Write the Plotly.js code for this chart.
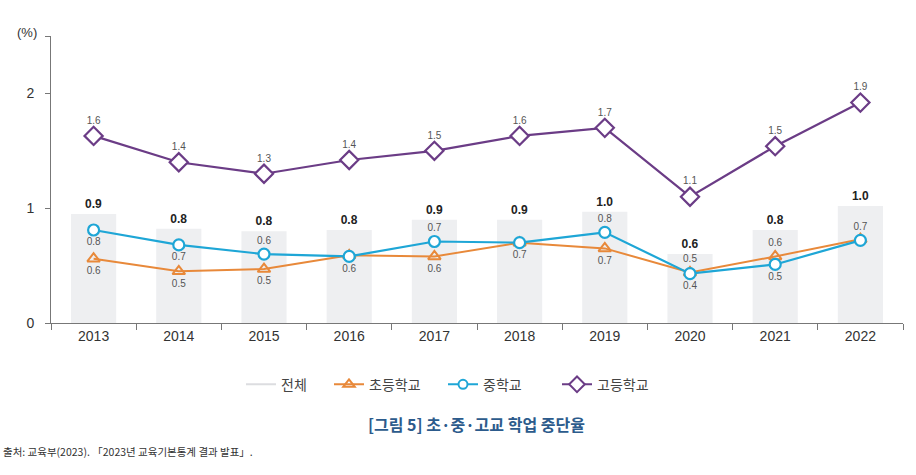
<!DOCTYPE html>
<html><head><meta charset="utf-8">
<script src="https://cdn.plot.ly/plotly-3.0.1.min.js"></script>
<style>html,body{margin:0;padding:0;background:#fff}#chart{width:916px;height:475px}</style>
</head><body><div id="chart"></div>
<script>
const years = ['2013','2014','2015','2016','2017','2018','2019','2020','2021','2022'];
const totalVals = [0.95, 0.82, 0.80, 0.81, 0.90, 0.90, 0.97, 0.60, 0.81, 1.02];
const totalLabels = ['0.9','0.8','0.8','0.8','0.9','0.9','1.0','0.6','0.8','1.0'];
const elemVals = [0.56, 0.45, 0.47, 0.59, 0.58, 0.70, 0.65, 0.44, 0.58, 0.73];
const elemLabels = ['0.6','0.5','0.5','','0.6','','0.7','0.5','0.6',''];
const elemPos = ['bottom center','bottom center','bottom center','bottom center','bottom center','bottom center','bottom center','top center','top center','top center'];
const midVals = [0.81, 0.68, 0.60, 0.58, 0.71, 0.70, 0.79, 0.43, 0.51, 0.72];
const midLabels = ['0.8','0.7','0.6','0.6','0.7','0.7','0.8','0.4','0.5','0.7'];
const midPos = ['bottom center','bottom center','top center','bottom center','top center','bottom center','top center','bottom center','bottom center','top center'];
const highVals = [1.63, 1.40, 1.30, 1.42, 1.50, 1.63, 1.70, 1.10, 1.54, 1.92];
const highLabels = ['1.6','1.4','1.3','1.4','1.5','1.6','1.7','1.1','1.5','1.9'];

const F = 'Liberation Sans, Arial, Noto Sans CJK KR, sans-serif';
const K = 'Noto Sans CJK KR, sans-serif';
const lblFont = {family: F, size: 10, color: '#555'};
const C_ALL = '#dcdde0', C_EL = '#e8893a', C_MID = '#1ea6d6', C_HI = '#6b3c86';

const traces = [
  {type:'bar', x: years, y: totalVals, name:'전체', showlegend:false,
   marker:{color:'#eeeff1'}, width:0.53,
   text: totalLabels, textposition:'outside', cliponaxis:false,
   textfont:{family:F, size:12, color:'#222', weight:'bold'}, hoverinfo:'skip'},
  {type:'scatter', mode:'lines+markers+text', x: years, y: elemVals, name:'초등학교', showlegend:false,
   line:{color:C_EL, width:2},
   marker:{symbol:'triangle-up-open', size:11, color:C_EL, line:{width:2}},
   text: elemLabels, textposition: elemPos, textfont: lblFont, cliponaxis:false},
  {type:'scatter', mode:'lines+markers+text', x: years, y: midVals, name:'중학교', showlegend:false,
   line:{color:C_MID, width:2.2},
   marker:{symbol:'circle', size:11, color:'#ffffff', line:{width:2.2, color:C_MID}},
   text: midLabels, textposition: midPos, textfont: lblFont, cliponaxis:false},
  {type:'scatter', mode:'lines+markers+text', x: years, y: highVals, name:'고등학교', showlegend:false,
   line:{color:C_HI, width:2.2},
   marker:{symbol:'diamond', size:14, color:'#ffffff', line:{width:2.2, color:C_HI}},
   text: highLabels, textposition:'top center', textfont: lblFont, cliponaxis:false},
  // legend entries
  {type:'scatter', mode:'lines', x:[years[0]], y:[null], name:'전체', legend:'legend',
   line:{color:C_ALL, width:2}},
  {type:'scatter', mode:'lines+markers', x:[years[0]], y:[null], name:'초등학교', legend:'legend2',
   line:{color:C_EL, width:2}, marker:{symbol:'triangle-up-open', size:10, color:C_EL, line:{width:2}}},
  {type:'scatter', mode:'lines+markers', x:[years[0]], y:[null], name:'중학교', legend:'legend3',
   line:{color:C_MID, width:2}, marker:{symbol:'circle', size:9, color:'#fff', line:{width:2, color:C_MID}}},
  {type:'scatter', mode:'lines+markers', x:[years[0]], y:[null], name:'고등학교', legend:'legend4',
   line:{color:C_HI, width:2}, marker:{symbol:'diamond', size:12, color:'#fff', line:{width:2, color:C_HI}}}
];

function leg(px){
  return {orientation:'h', x:(px-51)/852, xanchor:'left', y:-0.215, yanchor:'middle',
          font:{family:K, size:14, color:'#444'}, bgcolor:'rgba(0,0,0,0)'};
}

const layout = {
  width:916, height:475,
  margin:{l:51, r:13, t:36, b:152},
  paper_bgcolor:'#fff', plot_bgcolor:'#fff',
  font:{family:F, color:'#333'},
  showlegend:true,
  legend: leg(241), legend2: leg(329), legend3: leg(443), legend4: leg(557),
  xaxis:{type:'category', range:[-0.5, 9.5], tickson:'boundaries', ticks:'outside', ticklen:6,
         tickcolor:'#777', showline:true, linecolor:'#777', linewidth:1, showgrid:false,
         tickfont:{family:F, size:14, color:'#333'}, zeroline:false, fixedrange:true},
  yaxis:{range:[0, 2.5], tickvals:[0,1,2,2.5], ticktext:['0','1','2',''], ticks:'outside', ticklen:5,
         tickcolor:'#777', showline:true, linecolor:'#777', linewidth:1, showgrid:false, zeroline:false,
         tickfont:{family:F, size:14, color:'#333'}, ticklabelstandoff:8},
  annotations:[
    {text:'(%)', xref:'paper', yref:'paper', x:(15-51)/852, y:1.0, xanchor:'left', yanchor:'middle', yshift:4,
     showarrow:false, font:{family:F, size:13, color:'#333'}},
    {text:'<b>[그림 5] 초·중·고교 학업 중단율</b>', xref:'paper', yref:'paper', x:(476-51)/852, xanchor:'center',
     y:-0.352, yanchor:'middle', showarrow:false, font:{family:K, size:16, color:'#2c5b8c'}},
    {text:'출처: 교육부(2023). 「2023년 교육기본통계 결과 발표」.', xref:'paper', yref:'paper', x:(1-51)/852, xanchor:'left',
     y:-0.447, yanchor:'middle', showarrow:false, font:{family:K, size:10.5, color:'#333'}}
  ]
};
Plotly.newPlot('chart', traces, layout, {displayModeBar:false, staticPlot:true});
</script></body></html>
